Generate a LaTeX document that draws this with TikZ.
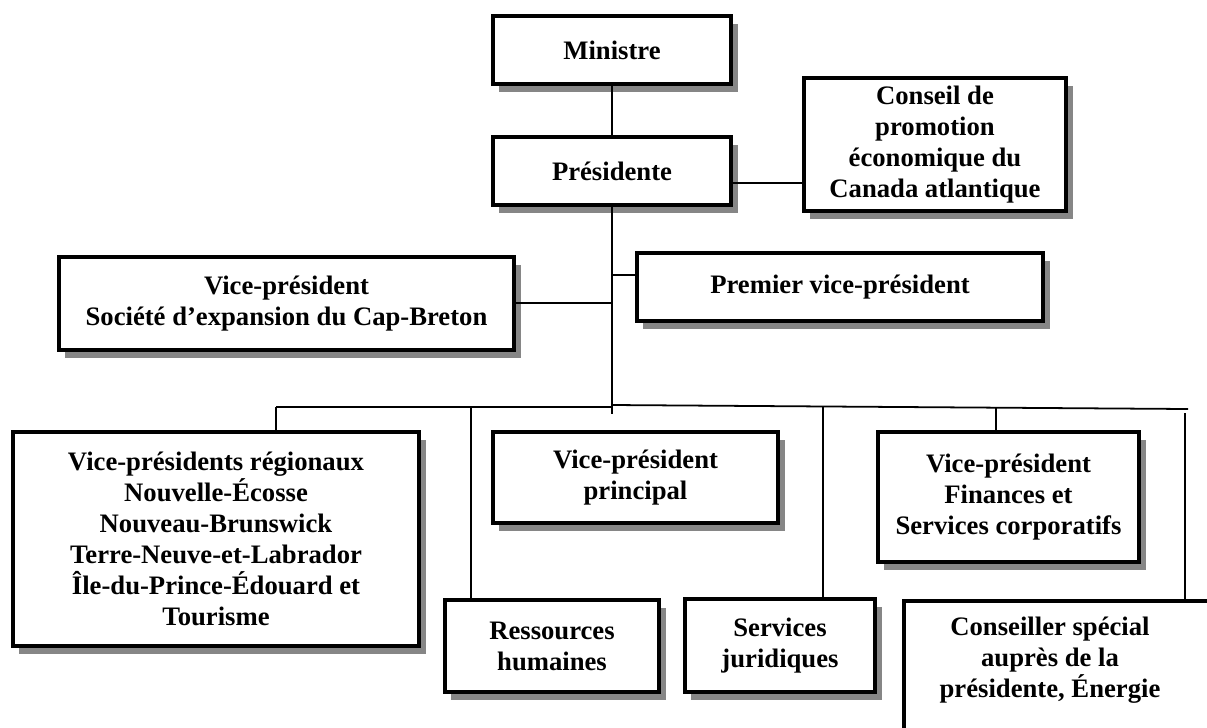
\documentclass[tikz,border=0pt]{standalone}
\usepackage{fontspec}
\setmainfont{Liberation Serif}
\usetikzlibrary{shadows}
\definecolor{sgray}{HTML}{868686}
\begin{document}
\begin{tikzpicture}[x=0.45pt,y=-0.45pt,
  box/.style={draw, line width=1.6pt, fill=white, align=center, inner sep=0pt,
    font=\fontsize{12}{13.9}\selectfont\bfseries,
    general shadow={fill=sgray, shadow xshift=3pt, shadow yshift=-3.5pt}},
  lbl/.style={align=center, inner sep=0pt, font=\fontsize{12}{13.9}\selectfont\bfseries},
  conn/.style={line width=0.8pt}]
\useasboundingbox (0,0) rectangle (1207,727);
\clip (0,0) rectangle (1207,727);
\fill[white] (0,0) rectangle (1207,727);

% boxes
\node[box, minimum width=238.5*0.45pt, minimum height=68.5*0.45pt] (min) at (612,50) {Ministre};
\node[box, minimum width=238.5*0.45pt, minimum height=68.5*0.45pt] (pres) at (612,171) {Présidente};
\node[box, minimum width=262.5*0.45pt, minimum height=133.5*0.45pt] (cons) at (935,144.5) {Conseil de\\promotion\\économique du\\Canada atlantique};
\node[box, minimum width=406.5*0.45pt, minimum height=68.5*0.45pt] (pvp) at (840,287) {Premier vice-président};
\node[box, minimum width=455.5*0.45pt, minimum height=93.5*0.45pt] (sec) at (286.5,303.5) {Vice-président\\Société d’expansion du Cap-Breton};
\node[box, minimum width=406.5*0.45pt, minimum height=214.5*0.45pt] (reg) at (216,539) {Vice-présidents régionaux\\Nouvelle-Écosse\\Nouveau-Brunswick\\Terre-Neuve-et-Labrador\\Île-du-Prince-Édouard et\\Tourisme};
\node[box, minimum width=285.5*0.45pt, minimum height=91.5*0.45pt] (vpp) at (635.5,477.5) {Vice-président\\principal};
\node[box, minimum width=261.5*0.45pt, minimum height=130.5*0.45pt] (fin) at (1008.5,497) {Vice-président\\Finances et\\Services corporatifs};
\node[box, minimum width=214.5*0.45pt, minimum height=92.5*0.45pt] (rh) at (552,646) {Ressources\\humaines};
\node[box, minimum width=190.5*0.45pt, minimum height=93.5*0.45pt] (sj) at (780,645.5) {Services\\juridiques};
\node[box, minimum width=336.25*0.45pt, minimum height=169.25*0.45pt] (csp) at (1071.9,685.4) {};
\node[lbl] (csptxt) at (1050,660) {Conseiller spécial\\auprès de la\\présidente, Énergie};

% connectors
\draw[conn] (min) -- (pres);
\draw[conn] (pres.east |- 0,183) -- (cons.west |- 0,183);
\coordinate (tr) at (612,414);
\draw[conn] (pres.south) -- (tr);
\draw[conn] (pres.south |- 0,275) -- (pvp.west |- 0,275);
\draw[conn] (sec.east |- 0,303) -- (pres.south |- 0,303);
\coordinate (bl) at (276,407);
\coordinate (bm) at (612,407);
\coordinate (bmr) at (612,405);
\coordinate (br) at (1188,409);
\draw[conn] (bl) -- (bm);
\draw[conn] (bmr) -- (br);
\draw[conn] (bl) -- (bl |- reg.north);
\coordinate (brh) at (471,407);
\draw[conn] (brh) -- (brh |- rh.north);
\coordinate (bsj) at (823,406.5);
\draw[conn] (bsj) -- (bsj |- sj.north);
\coordinate (bfin) at (996,407.3);
\draw[conn] (bfin) -- (bfin |- fin.north);
\coordinate (rs) at (1185,413);
\draw[conn] (rs) -- (rs |- csp.north);
\end{tikzpicture}
\end{document}
